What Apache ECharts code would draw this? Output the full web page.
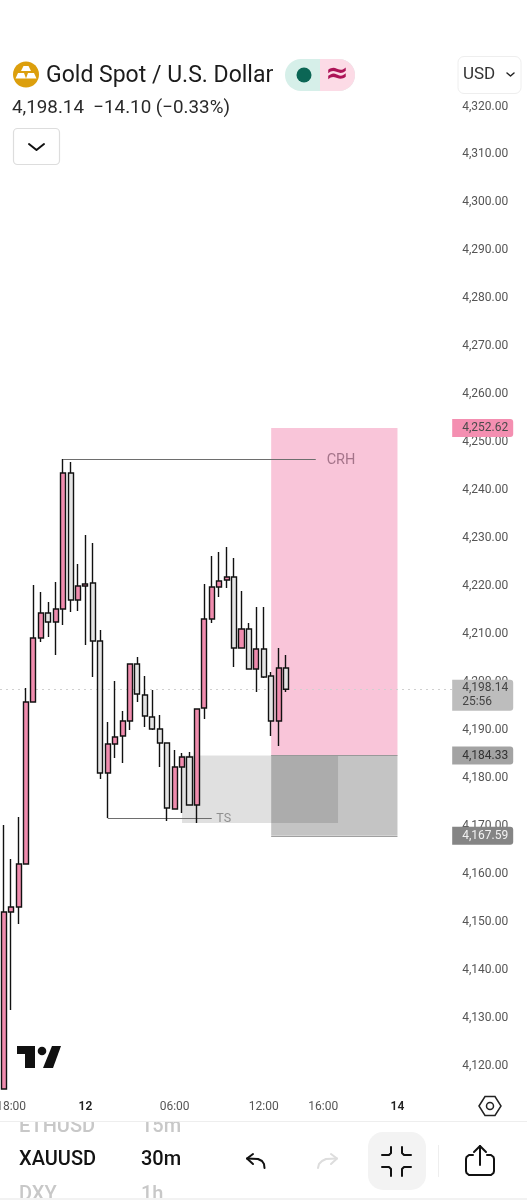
<!DOCTYPE html>
<html><head><meta charset="utf-8">
<style>html,body{margin:0;padding:0;background:#fff}#c{width:527px;height:1200px}</style>
<script src="https://cdn.jsdelivr.net/npm/echarts@6/dist/echarts.min.js"></script>
</head><body><div id="c"></div>
<script>
// ---------- data ----------
const candleOpen = [4114.8,4151.71,4152.75,4161.72,4195.5,4208.84,4214.06,4212.18,4214.89,4243.26,4216.77,4219.69,4220.31,4208.22,4180.69,4186.74,4188.41,4191.54,4203.42,4196.96,4192.37,4189.87,4186.95,4173.18,4181.94,4184.03,4174.02,4194.25,4212.81,4219.48,4220.94,4221.57,4206.76,4210.72,4202.38,4206.55,4200.92,4191.54,4202.59];
const candleClose = [4151.71,4152.75,4161.72,4195.5,4208.84,4214.06,4212.18,4214.89,4243.26,4216.77,4219.69,4220.1,4208.22,4180.69,4186.74,4188.2,4191.54,4203.42,4197.17,4192.58,4189.87,4186.95,4173.39,4181.94,4184.03,4174.02,4194.04,4212.81,4219.48,4220.73,4221.57,4206.76,4210.72,4202.38,4206.55,4200.71,4191.54,4202.59,4198.14];
const candleLow = [4114.8,4131.27,4149.2,4161.72,4195.5,4208.01,4209.05,4205.3,4211.56,4214.27,4214.48,4207.39,4200.71,4179.44,4171.3,4183.82,4182.78,4189.66,4195.5,4190.28,4189.66,4181.94,4170.68,4173.18,4172.35,4174.02,4170.26,4191.95,4211.97,4217.4,4219.27,4202.8,4206.76,4202.38,4197.58,4200.5,4188.41,4186.32,4197.58];
const candleHigh = [4169.85,4162.76,4171.51,4198.42,4219.9,4218.44,4216.35,4220.52,4246.18,4245.55,4224.28,4230.33,4228.66,4210.51,4191.33,4199.88,4193.62,4203.42,4204.88,4200.92,4198.0,4192.79,4186.95,4185.49,4184.86,4185.07,4194.04,4220.11,4225.95,4226.78,4227.82,4225.53,4218.65,4211.97,4215.31,4215.31,4201.76,4206.76,4205.3];
const timeLabels = ['','18:00','','','','','','','','','','12','','','','','','','','','','','','06:00','','','','','','','','','','','','12:00','','','','','','','','16:00','','','','','','','','','','14','','','','','','',''];
const priceMin = 4110, priceMax = 4330, priceStep = 10;
const lastPrice = 4198.14, countdown = '25:56';
const targetPrice = 4252.62, entryPrice = 4184.33, stopPrice = 4167.59;
const crhPrice = 4246.18, tsPrice = 4171.3, zoneLowPrice = 4170.26;

const candles = candleOpen.map((o,i)=>[o,candleClose[i],candleLow[i],candleHigh[i]]);
const fmt = v => v.toLocaleString('en-US',{minimumFractionDigits:2,maximumFractionDigits:2});
const F = 'Roboto';
const chart = echarts.init(document.getElementById('c'),null,{renderer:'canvas',width:527,height:1200});

function priceTag(v,bg,color,text,h,off){
  return {yAxis:v,lineStyle:{color:'transparent'},symbol:'none',
    label:{show:true,opacity:1,position:'end',distance:-1,formatter:text,color:color,fontFamily:F,fontSize:12,lineHeight:14,
      backgroundColor:bg,width:51,height:h,padding:[0,0,0,10],borderRadius:[0,3,3,0],align:'left',offset:[0,off||0]}};
}
const line = (pts,stroke,w)=>({type:'polyline',shape:{points:pts},style:{stroke:stroke,lineWidth:w||2,fill:null,lineJoin:'round',lineCap:'round'}});

const graphics = [
  // header
  {type:'circle',shape:{cx:26,cy:74.5,r:13},style:{fill:'#dc9f0d'}},
  {type:'polygon',shape:{points:[[23.5,66],[28.5,66],[31,71],[21,71]]},style:{fill:'#fff'}},
  {type:'polygon',shape:{points:[[18,73],[24,73],[26,78.5],[15.5,78.5]]},style:{fill:'#fff'}},
  {type:'polygon',shape:{points:[[28,73],[34,73],[36.5,78.5],[26,78.5]]},style:{fill:'#fff'}},
  {type:'text',x:46,y:76,style:{text:'Gold Spot / U.S. Dollar',font:'400 23px Roboto',fill:'#1c1c1c',textVerticalAlign:'middle'}},
  {type:'rect',shape:{x:285,y:59,width:70,height:32,r:16},style:{fill:'#d6efe9'}},
  {type:'rect',shape:{x:320,y:59,width:35,height:32,r:[0,16,16,0]},style:{fill:'#fcdbe6'}},
  {type:'circle',shape:{cx:304,cy:75,r:7.5},style:{fill:'#0b6655'}},
  {type:'text',x:337,y:75,style:{text:'≈',font:'700 28px "DejaVu Sans"',fill:'#ad1457',textAlign:'center',textVerticalAlign:'middle'}},
  {type:'rect',shape:{x:458,y:56.5,width:63,height:37,r:6},style:{fill:'#fff',stroke:'#eeeeee',lineWidth:1}},
  {type:'text',x:463,y:75,style:{text:'USD',font:'400 17px Roboto',fill:'#333',textVerticalAlign:'middle'}},
  line([[507,73],[510.5,76],[514,73]],'#222',1.5),
  {type:'text',x:12,y:108,style:{text:'4,198.14  −14.10 (−0.33%)',font:'400 18.8px Roboto',fill:'#2a2a2a',textVerticalAlign:'middle'}},
  {type:'rect',shape:{x:13.5,y:128.5,width:46,height:36,r:4},style:{fill:'#fff',stroke:'#dddddd',lineWidth:1.2}},
  line([[29,144],[36.5,150],[44,144]],'#111',2),
  // TV logo
  {type:'polygon',shape:{points:[[17,1046],[35,1046],[35,1068],[25,1068],[25,1054],[17,1054]]},style:{fill:'#111'}},
  {type:'circle',shape:{cx:42,cy:1051,r:4.3},style:{fill:'#111'}},
  {type:'polygon',shape:{points:[[52,1046],[61,1046],[53,1068],[43,1068]]},style:{fill:'#111'}},
  // settings hexagon
  {type:'polygon',shape:{points:[[479,1106],[485,1096.5],[495,1096.5],[501,1106],[495,1115.5],[485,1115.5]]},style:{fill:'#fff',stroke:'#222',lineWidth:1.5}},
  {type:'circle',shape:{cx:490,cy:1106,r:3.5},style:{fill:'#fff',stroke:'#222',lineWidth:1.5}},
  // toolbar
  {type:'text',x:19,y:1127,style:{text:'ETHUSD',font:'500 20px Roboto',fill:'#c8c8c8',textVerticalAlign:'middle'}},
  {type:'text',x:141,y:1127,style:{text:'15m',font:'500 20px Roboto',fill:'#c8c8c8',textVerticalAlign:'middle'}},
  {type:'rect',shape:{x:0,y:1116,width:470,height:5.5},style:{fill:'#fff'}},
  {type:'rect',shape:{x:0,y:1121,width:527,height:1},style:{fill:'#eeeeee'}},
  {type:'text',x:19,y:1160,style:{text:'XAUUSD',font:'500 20px Roboto',fill:'#131313',textVerticalAlign:'middle'}},
  {type:'text',x:141,y:1160,style:{text:'30m',font:'500 20px Roboto',fill:'#131313',textVerticalAlign:'middle'}},
  {type:'text',x:19,y:1195,style:{text:'DXY',font:'500 20px Roboto',fill:'#c8c8c8',textVerticalAlign:'middle'}},
  {type:'text',x:141,y:1195,style:{text:'1h',font:'500 20px Roboto',fill:'#c8c8c8',textVerticalAlign:'middle'}},
  {type:'rect',shape:{x:0,y:1198,width:527,height:2},style:{fill:'#f2f2f2'}},
  line([[264.5,1168],[264,1164],[262,1161],[258,1159],[247,1158.5]],'#111',2),
  line([[253,1154],[247,1158.5],[253,1164]],'#111',2),
  line([[318,1168],[319,1164],[322,1161],[326,1159],[337,1158.5]],'#dddddd',2),
  line([[331,1154],[337,1158.5],[331,1164]],'#dddddd',2),
  {type:'rect',shape:{x:368,y:1132,width:58,height:58,r:15},style:{fill:'#f3f3f3'}},
  line([[391,1147],[391,1153],[389,1155],[382,1155]],'#111',2),
  line([[402,1147],[402,1153],[404,1155],[411,1155]],'#111',2),
  line([[382,1167],[389,1167],[391,1169],[391,1176]],'#111',2),
  line([[411,1167],[404,1167],[402,1169],[402,1176]],'#111',2),
  {type:'rect',shape:{x:438,y:1145,width:1,height:32},style:{fill:'#eeeeee'}},
  line([[473,1155],[469,1155],[466.5,1157],[466,1159],[466,1171],[466.5,1173],[469,1175],[491,1175],[493.5,1173],[494,1171],[494,1159],[493.5,1157],[491,1155],[487,1155]],'#111',2),
  line([[480,1165],[480,1146]],'#111',2),
  line([[474,1152],[480,1146],[486,1152]],'#111',2)
];

chart.setOption({
  animation:false,
  backgroundColor:'#fff',
  grid:{left:0,top:57.05,width:453.2,height:1054.9,containLabel:false,outerBoundsMode:'none'},
  xAxis:{type:'category',data:timeLabels,boundaryGap:true,
    axisLine:{show:false},axisTick:{show:false},splitLine:{show:false},
    axisLabel:{interval:0,margin:-11,fontFamily:F,fontSize:12,color:'#555',hideOverlap:false,
      formatter:v=>(v==='12'||v==='14')?'{b|'+v+'}':v,
      rich:{b:{fontFamily:F,fontSize:12,fontWeight:600,color:'#222'}}}},
  yAxis:{type:'value',position:'right',min:priceMin,max:priceMax,interval:priceStep,
    axisLine:{show:false},axisTick:{show:false},splitLine:{show:false},
    axisLabel:{margin:9,showMinLabel:false,showMaxLabel:false,formatter:v=>'{a|'+fmt(v)+'}',
      rich:{a:{fontFamily:F,fontSize:12,color:'#555',padding:[3,0,0,0]}}}},
  series:[
    {type:'line',data:[],z:1,silent:true,
      markArea:{silent:true,z:1,itemStyle:{borderWidth:0},data:[
        [{coord:[36,targetPrice],itemStyle:{color:'#f9c5d9'}},{coord:[53,entryPrice]}],
        [{coord:[24,entryPrice],itemStyle:{color:'rgba(0,0,0,0.12)'}},{coord:[45,zoneLowPrice]}],
        [{coord:[36,entryPrice],itemStyle:{color:'rgba(0,0,0,0.23)'}},{coord:[53,stopPrice]}]
      ]},
      markLine:{silent:true,symbol:'none',z:2,animation:false,label:{show:false},data:[
        {yAxis:lastPrice,lineStyle:{color:'#d0d0d0',type:[2,4],width:1},label:{show:false}},
        [{coord:[8,crhPrice],lineStyle:{color:'#6e6e6e',width:1,type:'solid'},label:{show:false}},{coord:[42,crhPrice]}],
        [{coord:[14,tsPrice],lineStyle:{color:'#6e6e6e',width:1,type:'solid'},label:{show:false}},{coord:[28,tsPrice]}],
        [{coord:[36,entryPrice],lineStyle:{color:'#999',width:1,type:'solid'},label:{show:false}},{coord:[53,entryPrice]}],
        [{coord:[36,stopPrice],lineStyle:{color:'#a0a0a0',width:1,type:'solid'},label:{show:false}},{coord:[53,stopPrice]}]
      ]}
    },
    {type:'candlestick',data:candles,z:3,barWidth:5.6,clip:true,
      itemStyle:{color:'#f08cae',color0:'#e4e4e4',borderColor:'#111',borderColor0:'#111',borderWidth:1.4}},
    {type:'scatter',symbolSize:0,z:4,silent:true,
      data:[{value:[45,crhPrice],label:{color:'#8f5f75',fontSize:14.5,offset:[3,1.5]}},{value:[29,tsPrice],label:{color:'#7a7a7a',fontSize:12.5,offset:[4.5,0.5]}}],
      label:{show:true,position:'inside',fontFamily:F,
        formatter:p=>p.dataIndex===0?'CRH':'TS'}},
    {type:'line',data:[],z:5,silent:true,
      markLine:{silent:true,symbol:'none',z:5,animation:false,data:[
        priceTag(targetPrice,'#f48fb1','#4a4a4a',fmt(targetPrice),18),
        priceTag(entryPrice,'#a3a3a3','#333',fmt(entryPrice),18),
        priceTag(stopPrice,'#858585','#f2f2f2',fmt(stopPrice),18),
        priceTag(lastPrice,'#bdbdbd','#444',fmt(lastPrice)+'\n'+countdown,31,6)
      ]}
    }
  ],
  graphic:{elements:graphics.map(g=>Object.assign({silent:true,z:100},g))}
});
</script></body></html>
